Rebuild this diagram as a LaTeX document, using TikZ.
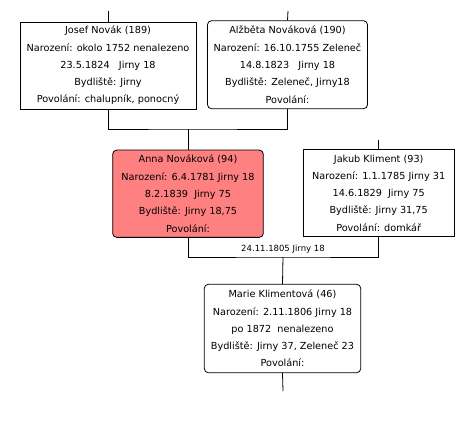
\documentclass[tikz,border=0pt]{standalone}
\usepackage{fontspec}
\setmainfont{DejaVu Sans}
\definecolor{annared}{RGB}{255,128,128}
\tikzset{
  person/.style={draw, line width=0.8pt, align=center, inner sep=0pt,
    font=\fontsize{9.7}{17.3}\selectfont},
  male/.style={person},
  female/.style={person, rounded corners=4pt},
  link/.style={line width=0.8pt},
}

\begin{document}
\begin{tikzpicture}[x=1pt,y=-1pt]
\useasboundingbox (0,0) rectangle (474,421);
% grandparents
\node[male, minimum width=176pt, minimum height=87pt] (josef) at (108,65.5)
  {Josef Novák (189)\\ Narození: okolo 1752 nenalezeno\\ 23.5.1824\ \ \ Jirny 18\\ Bydliště: Jirny\\ Povolání: chalupník, ponocný};
\node[female, minimum width=160pt, minimum height=88pt] (alzbeta) at (287.5,64.7)
  {Alžběta Nováková (190)\\ Narození: 16.10.1755 Zeleneč\ \\ 14.8.1823\ \ \ Jirny 18\\ Bydliště: Zeleneč, Jirny18\\ Povolání:};
% parents
\node[female, fill=annared, minimum width=150.6pt, minimum height=87.3pt] (anna) at (188,193.7)
  {Anna Nováková (94)\\ Narození: 6.4.1781 Jirny 18\\ 8.2.1839\ \ Jirny 75\\ Bydliště: Jirny 18,75\\ Povolání:};
\node[male, minimum width=150.7pt, minimum height=87.4pt] (jakub) at (378.7,193)
  {Jakub Kliment (93)\\ Narození: 1.1.1785 Jirny 31\\ 14.6.1829\ \ Jirny 75\\ Bydliště: Jirny 31,75\\ Povolání: domkář};
% child
\node[female, minimum width=156.4pt, minimum height=88.4pt] (marie) at (282.5,328.5)
  {Marie Klimentová (46)\\ Narození: 2.11.1806 Jirny 18\\ po 1872\ \ nenalezeno\\ Bydliště: Jirny 37, Zeleneč 23\\ Povolání:};

\coordinate (josefup) at (108,11);
\coordinate (alzbetaup) at (288,11);
\coordinate (annaup) at (188,129);
\coordinate (jakubup) at (378.7,140);
\coordinate (marriage) at (283,257);
\coordinate (mariedown) at (283,391);

\draw[link] (josef.north) -- (josefup);
\draw[link] (alzbeta.north) -- (alzbetaup);
\draw[link] (josef.south) |- (annaup) -| (alzbeta.south);
\draw[link] (annaup) -- (anna.north);
\draw[link] (jakub.north) -- (jakubup);
\draw[link] (anna.south) |- (marriage) -| (jakub.south);
\draw[link] (marriage) -- (marie.north);
\draw[link] (marie.south) -- (mariedown);
\node[font=\fontsize{8.5}{9}\selectfont, above=0.5pt] (wedding) at (marriage) {24.11.1805 Jirny 18};
\end{tikzpicture}
\end{document}
